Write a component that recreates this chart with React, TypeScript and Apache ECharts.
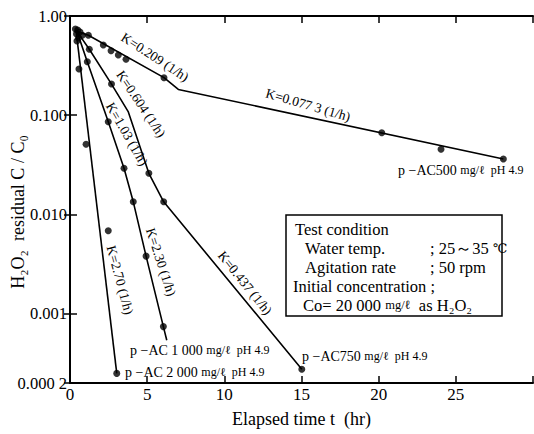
import React, { useEffect, useRef } from "react";
import * as echarts from "echarts";

// ---- data (t in hours, C/C0) ----
const startCluster: number[][] = [
  [0.35, 0.74], [0.42, 0.66], [0.5, 0.72], [0.55, 0.6], [0.65, 0.69], [0.8, 0.64], [0.45, 0.56],
];
const ac500Points: number[][] = [
  [1.19, 0.64], [2.16, 0.51], [2.66, 0.447], [3.13, 0.405], [3.63, 0.366], [6.09, 0.239],
  [20.2, 0.0667], [24.04, 0.0453], [28.08, 0.0362],
];
const ac500Line: number[][] = [[0.45, 0.7], [1.19, 0.64], [6.09, 0.239], [7.02, 0.182], [28.08, 0.0362]];

const ac750Points: number[][] = [[1.25, 0.462], [2.69, 0.206], [5.11, 0.026], [6.07, 0.0134], [15.02, 0.000275]];
const ac750Line: number[][] = [
  [0.45, 0.7], [1.25, 0.462], [2.69, 0.206], [3.78, 0.108], [5.11, 0.026], [6.07, 0.0134], [15.02, 0.000275],
];

const ac1000Points: number[][] = [[1.12, 0.346], [2.48, 0.086], [3.5, 0.0292], [4.1, 0.0134], [4.93, 0.0038], [6.05, 0.00074]];
const ac1000Line: number[][] = [
  [0.45, 0.7], [1.12, 0.346], [2.48, 0.086], [3.5, 0.0292], [4.1, 0.0134], [4.93, 0.0038], [6.05, 0.00074], [6.27, 0.00054],
];

const ac2000Points: number[][] = [[0.58, 0.292], [1.04, 0.051], [2.48, 0.00685], [3.03, 0.00025]];
const ac2000Line: number[][] = [[0.39, 0.72], [3.03, 0.00025]];

const xMin = 0;
const xMax = 30;
const xInterval = 5;
const yMin = 0.0002;
const yMax = 1;
const yTickLabels: [number, string][] = [
  [1, "1.00"], [0.1, "0.100"], [0.01, "0.010"], [0.001, "0.001"], [0.0002, "0.000 2"],
];

const FONT = "'Liberation Serif', 'DejaVu Serif', serif";

function yFmt(v: number): string {
  for (const [t, s] of yTickLabels) {
    if (Math.abs(Math.log10(v) - Math.log10(t)) < 0.01) return s;
  }
  return "";
}

export default function App() {
  const ref = useRef<HTMLDivElement>(null);
  useEffect(() => {
    if (!ref.current) return;
    const chart = echarts.init(ref.current, null, { renderer: "svg" });
    const lineStyle = { color: "#000", width: 1.6 };
    const mkLine = (data: number[][]) => ({
      type: "line", data, showSymbol: false, symbol: "none", lineStyle, silent: true, z: 2,
    });
    const mkPts = (data: number[][]) => ({
      type: "scatter", data, symbol: "circle", symbolSize: 7, itemStyle: { color: "#000" }, silent: true, z: 3,
    });
    const kText = (text: string, x: number, y: number, deg: number, size = 13.5) => ({
      type: "text", x, y, rotation: (deg * Math.PI) / 180,
      style: { text, fontFamily: FONT, fontSize: size, fill: "#000", align: "center", verticalAlign: "middle" },
    });
    const sampleText = (main: string, x: number, y: number) => ({
      type: "text", x, y,
      style: {
        text: `${main} {s|mg/ℓ  pH 4.9}`, fontFamily: FONT, fontSize: 14, fill: "#000",
        align: "left", verticalAlign: "middle",
        rich: { s: { fontFamily: FONT, fontSize: 12, fill: "#000" } },
      },
    });
    const boxText = (text: string, x: number, y: number) => ({
      type: "text", x, y,
      style: {
        text, fontFamily: FONT, fontSize: 16.5, fill: "#000", align: "left", verticalAlign: "middle",
        rich: {
          s: { fontFamily: FONT, fontSize: 12.5, fill: "#000" },
          c: { fontFamily: FONT, fontSize: 13, fill: "#000" },
        },
      },
    });

    const axisLine = { show: true, lineStyle: { color: "#000", width: 2 } };
    chart.setOption({
      animation: false,
      backgroundColor: "#fff",
      grid: { left: 70, top: 16, right: 1, bottom: 51, containLabel: false, outerBoundsMode: "none" },
      xAxis: [
        {
          type: "value", min: xMin, max: xMax, interval: xInterval, position: "bottom",
          axisLine, axisTick: { show: true, inside: true, length: 7, lineStyle: { color: "#000", width: 1.5 } },
          splitLine: { show: false },
          axisLabel: {
            color: "#000", fontFamily: FONT, fontSize: 17, margin: 3,
            formatter: (v: number) => (v === xMax ? "" : String(v)),
          },
          name: "Elapsed time t  (hr)", nameLocation: "middle", nameGap: 27,
          nameTextStyle: { color: "#000", fontFamily: FONT, fontSize: 18 },
        },
        {
          type: "value", min: xMin, max: xMax, interval: xInterval, position: "top",
          axisLine, axisTick: { show: true, inside: true, length: 7, lineStyle: { color: "#000", width: 1.5 } },
          splitLine: { show: false }, axisLabel: { show: false },
        },
      ],
      yAxis: [
        {
          type: "log", logBase: 10, min: yMin, max: yMax, position: "left",
          axisLine, axisTick: { show: true, inside: true, length: 7, lineStyle: { color: "#000", width: 1.5 } },
          splitLine: { show: false }, minorTick: { show: false },
          axisLabel: { color: "#000", fontFamily: FONT, fontSize: 16.5, margin: 3, formatter: yFmt, showMinLabel: true, showMaxLabel: true },
        },
        {
          type: "log", logBase: 10, min: yMin, max: yMax, position: "right",
          axisLine, axisTick: { show: true, inside: true, length: 6, lineStyle: { color: "#000", width: 1.5 } },
          splitLine: { show: false }, axisLabel: { show: false },
        },
      ],
      series: [
        mkLine(ac500Line), mkLine(ac750Line), mkLine(ac1000Line), mkLine(ac2000Line),
        mkPts(startCluster), mkPts(ac500Points), mkPts(ac750Points), mkPts(ac1000Points), mkPts(ac2000Points),
      ],
      graphic: [
        {
          type: "text", x: 18, y: 212, rotation: Math.PI / 2,
          style: { text: "H₂O₂  residual C / C₀", fontFamily: FONT, fontSize: 18, fill: "#000", align: "center", verticalAlign: "middle" },
        },
        kText("K=0.209 (1/h)", 155, 57, -33),
        kText("K=0.077 3 (1/h)", 308, 105, -16),
        kText("K=0.604 (1/h)", 141, 104, -56),
        kText("K=1.03 (1/h)", 127, 134, -60),
        kText("K=2.30 (1/h)", 161, 262, -72),
        kText("K=2.70 (1/h)", 120, 280, -75),
        kText("K=0.437 (1/h)", 245, 283, -51),
        sampleText("p −AC500", 398, 170),
        sampleText("p −AC750", 302, 356),
        sampleText("p −AC 1 000", 130, 350),
        sampleText("p −AC 2 000", 125, 372),
        {
          type: "rect", shape: { x: 286, y: 215, width: 216, height: 101 },
          style: { fill: "#fff", stroke: "#000", lineWidth: 1.5 }, z: 10,
        },
        { ...boxText("Test condition", 295, 229), z: 11 },
        { ...boxText("Water temp.", 305, 248), z: 11 },
        { ...boxText("; 25～35 {c|℃}", 430, 248), z: 11 },
        { ...boxText("Agitation rate", 305, 267), z: 11 },
        { ...boxText("; 50 rpm", 430, 267), z: 11 },
        { ...boxText("Initial concentration ;", 293, 286), z: 11 },
        { ...boxText("Co= 20 000 {s|mg/ℓ}  as H₂O₂", 303, 305), z: 11 },
      ],
    });
    return () => chart.dispose();
  }, []);
  return <div ref={ref} style={{ position: "fixed", left: 0, top: 0, width: 534, height: 434 }} />;
}
